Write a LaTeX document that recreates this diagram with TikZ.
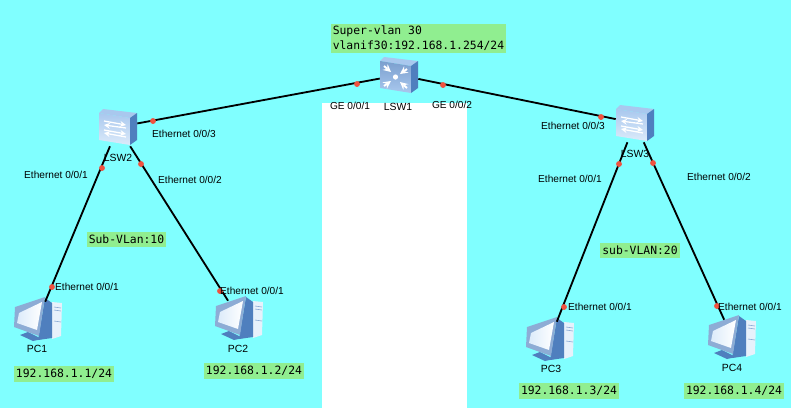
\documentclass[tikz,border=0pt]{standalone}
\usepackage{fontspec}
\setmainfont{Liberation Sans}
\newfontfamily\vlanfont{DejaVu Sans Mono}
\definecolor{backcyan}{HTML}{80FFFF}
\definecolor{notegreen}{HTML}{90EE90}
\definecolor{portred}{HTML}{F0523F}
\definecolor{iconblue}{HTML}{4F7FBE}
\definecolor{iconlight}{HTML}{A9C8EE}
\definecolor{iconpale}{HTML}{DCEBFA}
\newcommand{\swbody}[2]{
  \fill[iconlight] (-15,-18) -- (19,-14) -- (12,-9) -- (-19,-14) -- cycle;
  \shade[top color=#1,bottom color=#2] (-19,-14) -- (12,-9) -- (12,18) -- (-19,13) -- cycle;
  \fill[iconblue] (12,-9) -- (19,-14) -- (19,13) -- (12,18) -- cycle;
}
\tikzset{
  >=stealth,
  swnode/.style={minimum width=38*0.025cm,minimum height=38*0.025cm,inner sep=0},
  pcnode/.style={minimum width=34*0.025cm,minimum height=34*0.025cm,inner sep=0},
  portdot/.style={circle,fill=portred,minimum size=4.2pt,inner sep=0},
  lbl/.style={font=\fontsize{7.2}{8.5}\selectfont,inner sep=0},
  devlbl/.style={font=\fontsize{7.4}{8.5}\selectfont,inner sep=0},
  note/.style={fill=notegreen,font=\vlanfont\fontsize{8.1}{10.6}\selectfont,inner sep=0},
  link/.style={line width=1.3pt},
  pics/lswicon/.style={code={
    \swbody{iconlight}{iconpale}
    \draw[white,line width=0.9pt,->] (-14,-6) -- (8,-2);
    \draw[white,line width=0.9pt,->] (8,1) -- (-14,-2);
    \draw[white,line width=0.9pt,->] (-14,3) -- (8,7);
    \draw[white,line width=0.9pt,->] (8,10) -- (-14,6);
  }},
  pics/coreicon/.style={code={
    \swbody{iconblue!75!white}{iconlight}
    \fill[white] (-3.5,2) circle (2.6);
    \draw[white,line width=1.4pt,->] (-15,-9) -- (-8,-3);
    \draw[white,line width=1.4pt,->] (8,-6) -- (1,-1);
    \draw[white,line width=1.4pt,->] (-15,11) -- (-8,6);
    \draw[white,line width=1.4pt,->] (8,13) -- (1,7);
  }},
  pics/pcicon/.style={code={
    % tower, stand, back of the monitor, frame, screen
    \fill[iconpale!70!white] (14,-17) -- (24,-16) -- (23,17) -- (14,20) -- cycle;
    \draw[iconblue!70!white,line width=0.4pt] (16,-12) -- (23,-11) (16,-9) -- (23,-8) (16,2) -- (23,3);
    \fill[iconblue] (-18,16) -- (-10,13) -- (4,20) -- (-5,22) -- cycle;
    \fill[iconblue] (7,-21) -- (14,-16) -- (14,19) -- (0,21) -- cycle;
    \fill[iconblue!65!white] (-23,-12) -- (7,-22) -- (1,17) -- (-24,8) -- cycle;
    \shade[left color=iconpale,right color=white] (-19,-6) -- (4,-17) -- (-1,11) -- (-21,4) -- cycle;
  }},
}
\begin{document}
\begin{tikzpicture}[x=0.025cm,y=-0.025cm]
\useasboundingbox (0,0) rectangle (791,410);
\fill[backcyan] (0,0) rectangle (791,410);
\fill[white] (322,103) rectangle (467,410);
\fill[white] (0,408) rectangle (791,410);
% devices
\node[swnode] (lsw1) at (399,75) {};
\node[swnode] (lsw2) at (118,127) {};
\node[swnode] (lsw3) at (635,123) {};
\node[pcnode] (pc1) at (38,319) {};
\node[pcnode] (pc2) at (239,318) {};
\node[pcnode] (pc3) at (550,339) {};
\node[pcnode] (pc4) at (732,337) {};
\pic at (pc1) {pcicon};
\pic at (pc2) {pcicon};
\pic at (pc3) {pcicon};
\pic at (pc4) {pcicon};
% links
\draw[link] (lsw1) -- (lsw2);
\draw[link] (lsw1) -- (lsw3);
\draw[link] (lsw2) -- (pc1);
\draw[link] (lsw2) -- (pc2);
\draw[link] (lsw3) -- (pc3);
\draw[link] (lsw3) -- (pc4);
\pic at (lsw1) {coreicon};
\pic at (lsw2) {lswicon};
\pic at (lsw3) {lswicon};
% port dots
\node[portdot] (d1) at (357,84) {};
\node[portdot] (d2) at (443,85) {};
\node[portdot] (d3) at (153,121) {};
\node[portdot] (d4) at (601,117) {};
\node[portdot] (d5) at (102,168) {};
\node[portdot] (d6) at (141,164) {};
\node[portdot] (d7) at (619,164) {};
\node[portdot] (d8) at (653,163) {};
\node[portdot] (d9) at (52,287) {};
\node[portdot] (d10) at (220,291) {};
\node[portdot] (d11) at (564,307) {};
\node[portdot] (d12) at (717,306) {};
% port names
\node[lbl] (ge1) at (350,106) {GE 0/0/1};
\node[lbl] (ge2) at (452,105) {GE 0/0/2};
\node[lbl] (e23) at (184,134) {Ethernet 0/0/3};
\node[lbl] (e21) at (56,175) {Ethernet 0/0/1};
\node[lbl] (e22) at (190,180) {Ethernet 0/0/2};
\node[lbl] (e33) at (573,126) {Ethernet 0/0/3};
\node[lbl] (e31) at (570,179) {Ethernet 0/0/1};
\node[lbl] (e32) at (719,177) {Ethernet 0/0/2};
\node[lbl] (e1) at (87,287) {Ethernet 0/0/1};
\node[lbl] (e2) at (252,291) {Ethernet 0/0/1};
\node[lbl] (e3) at (600,307) {Ethernet 0/0/1};
\node[lbl] (e4) at (750,307) {Ethernet 0/0/1};
% device names
\node[devlbl] (n1) at (398,107) {LSW1};
\node[devlbl] (n2) at (118,158) {LSW2};
\node[devlbl] (n3) at (635,154) {LSW3};
\node[devlbl] (n4) at (37,349) {PC1};
\node[devlbl] (n5) at (238,349) {PC2};
\node[devlbl] (n6) at (551,369) {PC3};
\node[devlbl] (n7) at (732,368) {PC4};
% green notes
\node[note,minimum width=175*0.025cm,minimum height=29*0.025cm,align=left] (super) at (418.5,38.5) {Super-vlan 30\\vlanif30:192.168.1.254/24};
\node[note,minimum width=79*0.025cm,minimum height=15*0.025cm] (sub1) at (126.5,239.5) {Sub-VLan:10};
\node[note,minimum width=80*0.025cm,minimum height=15*0.025cm] (sub2) at (640,250.5) {sub-VLAN:20};
\node[note,minimum width=100*0.025cm,minimum height=16*0.025cm] (ip1) at (64,374) {192.168.1.1/24};
\node[note,minimum width=100*0.025cm,minimum height=16*0.025cm] (ip2) at (254,371) {192.168.1.2/24};
\node[note,minimum width=100*0.025cm,minimum height=16*0.025cm] (ip3) at (569,391) {192.168.1.3/24};
\node[note,minimum width=100*0.025cm,minimum height=16*0.025cm] (ip4) at (734,391) {192.168.1.4/24};
\end{tikzpicture}
\end{document}
